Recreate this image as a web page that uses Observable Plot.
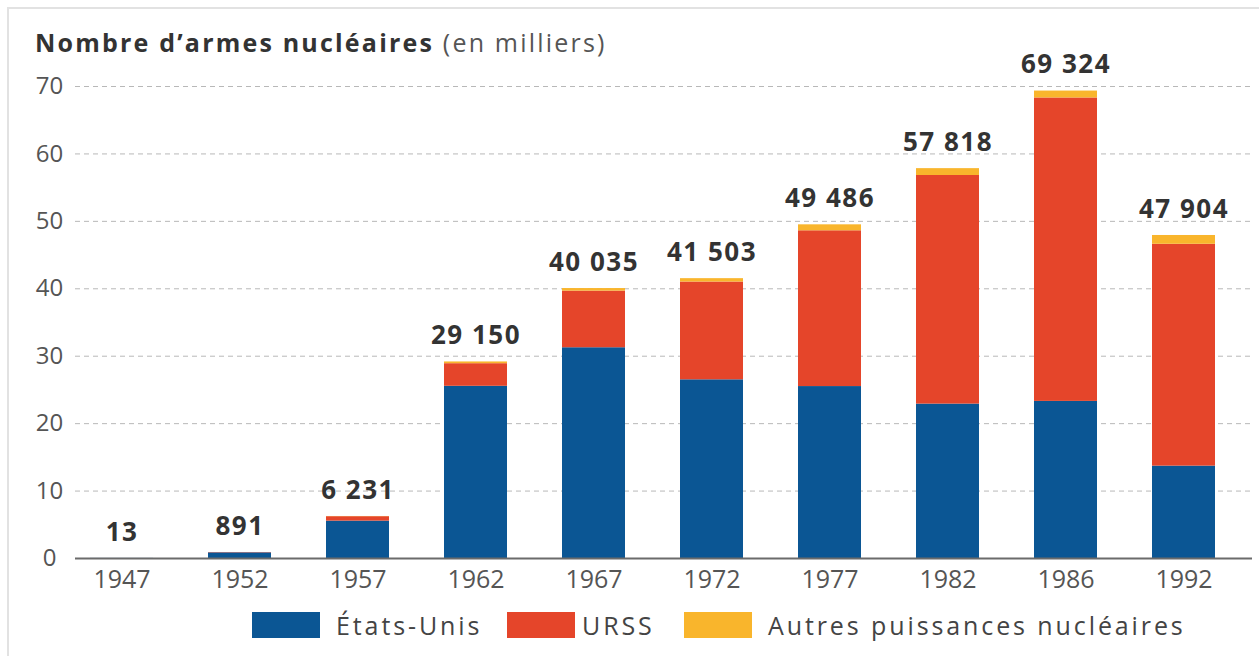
<!DOCTYPE html>
<html><head><meta charset="utf-8">
<script src="https://cdn.jsdelivr.net/npm/d3@7"></script>
<script src="https://cdn.jsdelivr.net/npm/@observablehq/plot@0.6"></script>
<style>
html,body{margin:0;padding:0;background:#fff;}
body{width:1259px;height:656px;position:relative;overflow:hidden;font-family:"Open Sans",sans-serif;}
#frame{position:absolute;left:7px;top:7px;width:1300px;height:700px;border-left:2px solid #e2e2e2;border-top:2px solid #e2e2e2;}
#title{position:absolute;left:35px;top:30px;font-size:25px;line-height:25px;color:#3a3a3a;letter-spacing:2.2px;white-space:nowrap;}
#title b{font-weight:700;color:#333;}
#title span{color:#555;}
#chart{position:absolute;left:0;top:0;}
#chart g[aria-label="text"] text{letter-spacing:1.5px;}
.sw{position:absolute;top:612px;width:68px;height:26px;}
.lt{position:absolute;top:612px;line-height:26px;font-size:25px;color:#444;letter-spacing:2.9px;white-space:nowrap;}
</style>
</head><body>
<div id="frame"></div>
<div id="chart"></div>
<div id="title"><b>Nombre d’armes nucléaires</b> <span>(en milliers)</span></div>
<div id="legend"></div>
<script>
const years = ["1947","1952","1957","1962","1967","1972","1977","1982","1986","1992"];
const seriesNames = ["États-Unis","URSS","Autres puissances nucléaires"];
const seriesColors = ["#0b5694","#e5452a","#f9b52c"];
// values in thousands of warheads
const usValues    = [0.013, 0.841, 5.543, 25.54, 31.255, 26.5, 25.5, 22.9, 23.3, 13.7];
const ussrValues  = [0,     0.05,  0.66,  3.35,  8.4,    14.5, 23.1, 33.9, 45.0, 32.9];
const otherValues = [0,     0,     0.028, 0.26,  0.38,   0.503, 0.886, 1.018, 1.024, 1.304];
const totals      = [13, 891, 6231, 29150, 40035, 41503, 49486, 57818, 69324, 47904];
const yTicks = [0,10,20,30,40,50,60,70];

const seriesValues = [usValues, ussrValues, otherValues];
const rows = [];
years.forEach((yr,i)=>seriesNames.forEach((s,j)=>rows.push({year:yr, series:s, value:seriesValues[j][i]})));
const fr = d3.formatLocale({decimal:",", thousands:"\u00a0", grouping:[3], currency:["","€"]});
const fmt = fr.format(",");
const labelRows = years.map((yr,i)=>({year:yr, total:totals[i]/1000, label:fmt(totals[i])}));

const chart = Plot.plot({
  width:1259, height:610,
  marginLeft:75, marginRight:7, marginTop:86, marginBottom:52,
  style:{fontFamily:"'Open Sans', sans-serif", background:"transparent"},
  x:{domain:years, paddingInner:0.462, paddingOuter:0.181, align:0.3, label:null},
  y:{domain:[0,70], label:null},
  color:{domain:seriesNames, range:seriesColors},
  marks:[
    Plot.gridY(yTicks.filter(d=>d>0), {stroke:"#b8b8b8", strokeOpacity:1, strokeDasharray:"5,4"}),
    Plot.barY(rows, {x:"year", y:"value", fill:"series", order:seriesNames}),
    Plot.ruleY([0], {stroke:"#6b6b6b", strokeWidth:2}),
    Plot.text(labelRows, {x:"year", y:"total", text:"label", dy:-26, fontWeight:"bold", fontSize:26, fill:"#333"}),
    Plot.axisX({tickSize:0, tickPadding:12, fontSize:25, fill:"#555", label:null}),
    Plot.axisY({ticks:yTicks, tickSize:0, tickPadding:26, textAnchor:"middle", fontSize:24, fill:"#555", label:null})
  ]
});
document.getElementById("chart").appendChild(chart);

const legend = document.getElementById("legend");
const swLeft = [252, 507, 684], txtLeft = [336, 582, 768];
seriesNames.forEach((s,i)=>{
  const sw = document.createElement("div"); sw.className="sw"; sw.style.left=swLeft[i]+"px"; sw.style.background=seriesColors[i]; legend.appendChild(sw);
  const t = document.createElement("div"); t.className="lt"; t.style.left=txtLeft[i]+"px"; t.textContent=s; legend.appendChild(t);
});
</script>
</body></html>
